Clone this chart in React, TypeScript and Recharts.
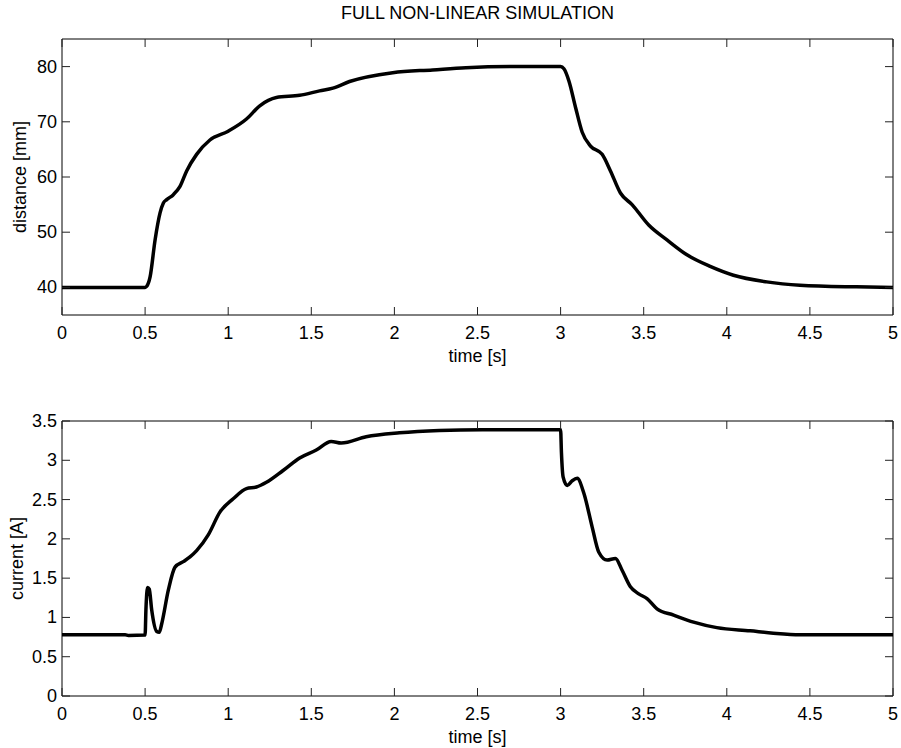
import React from 'react';
import { LineChart, Line, XAxis, YAxis, ReferenceArea } from 'recharts';

// distance plot
const distTime = [0, 0.5, 0.51, 0.53, 0.56, 0.59, 0.61, 0.63, 0.67, 0.71, 0.75, 0.81, 0.89, 1.0, 1.11, 1.19, 1.29, 1.43, 1.55, 1.63, 1.73, 1.99, 2.23, 2.43, 2.72, 3.0, 3.02, 3.05, 3.09, 3.13, 3.18, 3.25, 3.3, 3.36, 3.43, 3.53, 3.64, 3.76, 3.9, 4.04, 4.24, 4.44, 4.78, 5.0];
const distValues = [40, 40, 40.2, 41.9, 48.6, 53.5, 55.3, 55.9, 56.8, 58.3, 61.1, 64.1, 66.7, 68.3, 70.5, 72.9, 74.4, 74.8, 75.6, 76.1, 77.3, 78.9, 79.4, 79.8, 80, 80, 79.6, 77.4, 72.6, 68.1, 65.6, 64.1, 61.1, 57.1, 55.0, 51.3, 48.6, 45.9, 43.8, 42.2, 41.0, 40.4, 40.1, 40];

// current plot
const currTime = [0, 0.38, 0.4, 0.5, 0.505, 0.515, 0.525, 0.54, 0.57, 0.585, 0.6, 0.64, 0.68, 0.73, 0.77, 0.81, 0.88, 0.95, 1.03, 1.11, 1.17, 1.23, 1.33, 1.43, 1.53, 1.62, 1.68, 1.83, 2.03, 2.27, 2.53, 3.0, 3.005, 3.015, 3.04, 3.07, 3.1, 3.14, 3.19, 3.23, 3.28, 3.33, 3.37, 3.42, 3.47, 3.52, 3.58, 3.68, 3.8, 3.94, 4.14, 4.28, 4.44, 5.0];
const currValues = [0.78, 0.78, 0.77, 0.775, 1.1, 1.38, 1.36, 1.09, 0.82, 0.81, 0.92, 1.35, 1.64, 1.71, 1.77, 1.85, 2.05, 2.34, 2.51, 2.64, 2.66, 2.72, 2.87, 3.03, 3.13, 3.24, 3.22, 3.3, 3.35, 3.38, 3.39, 3.39, 3.1, 2.79, 2.68, 2.74, 2.77, 2.58, 2.15, 1.83, 1.73, 1.75, 1.6, 1.39, 1.3, 1.24, 1.11, 1.03, 0.94, 0.87, 0.83, 0.8, 0.78, 0.78];

const timeTicks = [0, 0.5, 1, 1.5, 2, 2.5, 3, 3.5, 4, 4.5, 5];
const distTicks = [40, 50, 60, 70, 80];
const currTicks = [0, 0.5, 1, 1.5, 2, 2.5, 3, 3.5];

const distData = distTime.map((t, i) => ({ t, v: distValues[i] }));
const currData = currTime.map((t, i) => ({ t, v: currValues[i] }));

const FONT = '"Liberation Sans", Arial, Helvetica, sans-serif';
const FS = 18;
const TICK = 8;
const TICK_COLOR = '#222';

const makeXTick = (plotH: number) => (props: any) => {
  const { x, y, payload } = props;
  return (
    <g>
      <line x1={x} x2={x} y1={y} y2={y - TICK} stroke={TICK_COLOR} />
      <line x1={x} x2={x} y1={y - plotH} y2={y - plotH + TICK} stroke={TICK_COLOR} />
      <text x={x} y={y + 18} textAnchor="middle" dominantBaseline="central" fontSize={FS} fontFamily={FONT} fill="#000">
        {String(payload.value)}
      </text>
    </g>
  );
};

const makeYTick = (plotW: number) => (props: any) => {
  const { x, y, payload } = props;
  return (
    <g>
      <line x1={x} x2={x + TICK} y1={y} y2={y} stroke={TICK_COLOR} />
      <line x1={x + plotW - TICK} x2={x + plotW} y1={y} y2={y} stroke={TICK_COLOR} />
      <text x={x - 5} y={y} textAnchor="end" dominantBaseline="central" fontSize={FS} fontFamily={FONT} fill="#000">
        {String(payload.value)}
      </text>
    </g>
  );
};

const xLabel = (dy: number) => (props: any) => {
  const vb = props.viewBox;
  return (
    <text x={vb.x + vb.width / 2} y={vb.y + dy} textAnchor="middle" dominantBaseline="central" fontSize={FS} fontFamily={FONT} fill="#000">
      time [s]
    </text>
  );
};

const yLabel = (text: string, cx: number) => (props: any) => {
  const vb = props.viewBox;
  const cy = vb.y + vb.height / 2;
  return (
    <text x={cx} y={cy} transform={`rotate(-90 ${cx} ${cy})`} textAnchor="middle" dominantBaseline="central" fontSize={FS} fontFamily={FONT} fill="#000">
      {text}
    </text>
  );
};

const PLOT_W = 831;

export default function App() {
  return (
    <div style={{ position: 'absolute', left: 0, top: 0, width: 901, height: 748, background: '#fff' }}>
      <div style={{ position: 'absolute', left: 62, width: PLOT_W, top: 3, textAlign: 'center', fontFamily: FONT, fontSize: FS, lineHeight: '20px' }}>
        FULL NON-LINEAR SIMULATION
      </div>
      <div style={{ position: 'absolute', left: 0, top: 0 }}>
        <LineChart width={901} height={375} data={distData} margin={{ top: 39, right: 8, bottom: 0, left: 0 }}>
          <XAxis dataKey="t" type="number" domain={[0, 5]} ticks={timeTicks} interval={0} tickSize={0} tickMargin={0} axisLine={false} height={60} tick={makeXTick(276)} label={xLabel(41)} />
          <YAxis type="number" domain={[35, 85]} ticks={distTicks} interval={0} tickSize={0} tickMargin={0} axisLine={false} width={62} tick={makeYTick(PLOT_W)} label={yLabel('distance [mm]', 20)} />
          <ReferenceArea x1={0} x2={5} y1={35} y2={85} fill="none" stroke="#000" strokeWidth={1} />
          <Line dataKey="v" type="monotone" stroke="#000" strokeWidth={3.5} dot={false} isAnimationActive={false} />
        </LineChart>
      </div>
      <div style={{ position: 'absolute', left: 0, top: 380 }}>
        <LineChart width={901} height={368} data={currData} margin={{ top: 41, right: 8, bottom: 0, left: 0 }}>
          <XAxis dataKey="t" type="number" domain={[0, 5]} ticks={timeTicks} interval={0} tickSize={0} tickMargin={0} axisLine={false} height={52} tick={makeXTick(275)} label={xLabel(41)} />
          <YAxis type="number" domain={[0, 3.5]} ticks={currTicks} interval={0} tickSize={0} tickMargin={0} axisLine={false} width={62} tick={makeYTick(PLOT_W)} label={yLabel('current [A]', 17)} />
          <ReferenceArea x1={0} x2={5} y1={0} y2={3.5} fill="none" stroke="#000" strokeWidth={1} />
          <Line dataKey="v" type="monotone" stroke="#000" strokeWidth={3.5} dot={false} isAnimationActive={false} />
        </LineChart>
      </div>
    </div>
  );
}
